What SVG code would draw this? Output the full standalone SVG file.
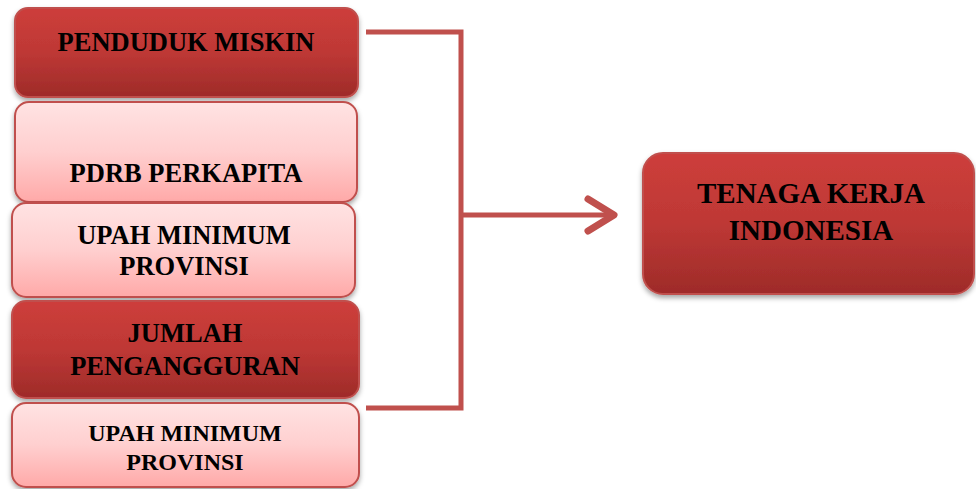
<svg xmlns="http://www.w3.org/2000/svg" width="976" height="489" viewBox="0 0 976 489">
<defs>
<linearGradient id="dark" x1="0" y1="0" x2="0" y2="1">
<stop offset="0" stop-color="#CD3E3B"/>
<stop offset="0.5" stop-color="#BE3835"/>
<stop offset="1" stop-color="#9E2B29"/>
</linearGradient>
<linearGradient id="light" x1="0" y1="0" x2="0" y2="1">
<stop offset="0" stop-color="#FFE3E3"/>
<stop offset="0.5" stop-color="#FFCFCF"/>
<stop offset="1" stop-color="#FFA9A8"/>
</linearGradient>
<filter id="sh" x="-10%" y="-10%" width="120%" height="130%">
<feDropShadow dx="0" dy="3" stdDeviation="2.5" flood-color="#000" flood-opacity="0.35"/>
</filter>
</defs>
<style>
.d{fill:url(#dark);stroke:#C0504D;stroke-width:2;filter:url(#sh)}
.l{fill:url(#light);stroke:#C0504D;stroke-width:2;filter:url(#sh)}
text{font-family:"Liberation Serif","Times New Roman",serif;font-weight:bold;fill:#000;text-anchor:middle}
.c{fill:none;stroke:#C0504D;stroke-width:5;stroke-linecap:butt;stroke-linejoin:miter}
</style>
<g id="connectors">
<polyline class="c" points="366,32 461,32 461,408 366,408"/>
<line class="c" x1="461" y1="215" x2="612" y2="215"/>
<polyline class="c" points="588,199 614,215 588,231" style="stroke-linecap:round;stroke-linejoin:round;stroke-width:7"/>
</g>
<g id="n1">
<rect class="d" x="15" y="8" width="343" height="89" rx="13"/>
<text x="186" y="51" font-size="26.5">PENDUDUK MISKIN</text>
</g>
<g id="n2">
<rect class="l" x="15" y="102" width="342" height="100" rx="14"/>
<text x="186" y="182" font-size="26.5">PDRB PERKAPITA</text>
</g>
<g id="n3">
<rect class="l" x="12" y="203" width="343" height="94" rx="14"/>
<text x="184" y="244" font-size="26.5">UPAH MINIMUM</text>
<text x="184" y="275" font-size="26.5">PROVINSI</text>
</g>
<g id="n4">
<rect class="d" x="12" y="301" width="347" height="97" rx="14"/>
<text x="185" y="342" font-size="26.5">JUMLAH</text>
<text x="185" y="375" font-size="26.5">PENGANGGURAN</text>
</g>
<g id="n5">
<rect class="l" x="12" y="403" width="347" height="84" rx="14"/>
<text x="185" y="441" font-size="24">UPAH MINIMUM</text>
<text x="185" y="470" font-size="24">PROVINSI</text>
</g>
<g id="n6">
<rect class="d" x="643" y="153" width="331" height="141" rx="20"/>
<text x="811" y="203" font-size="29">TENAGA KERJA</text>
<text x="811" y="240" font-size="29">INDONESIA</text>
</g>
</svg>
